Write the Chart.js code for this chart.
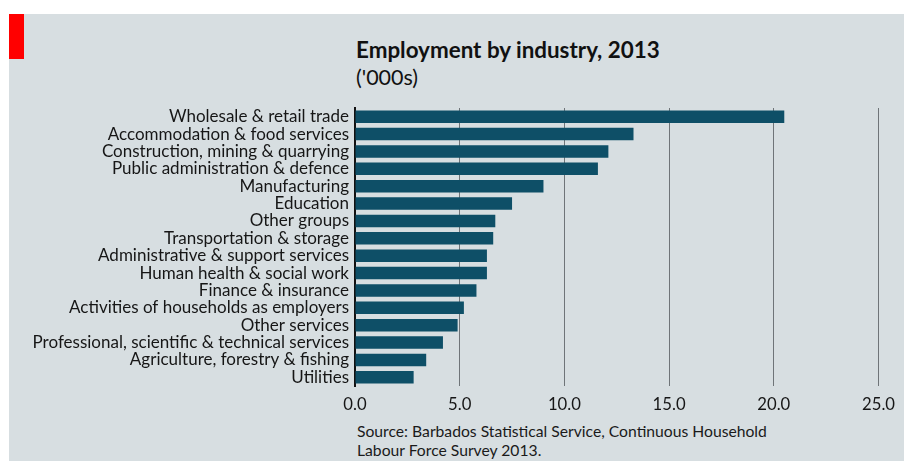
<!DOCTYPE html>
<html>
<head>
<meta charset="utf-8">
<script src="https://cdn.jsdelivr.net/npm/chart.js@4"></script>
<style>
    html, body {
        margin: 0;
        padding: 0;
        width: 904px;
        height: 461px;
        background: #ffffff;
        overflow: hidden;
        font-family: Lato, sans-serif;
    }
    #panel {
        position: absolute;
        left: 9px;
        top: 14px;
        width: 895px;
        height: 447px;
        background: #d7dee1;
    }
    #red-tag {
        position: absolute;
        left: 9px;
        top: 14px;
        width: 15px;
        height: 45px;
        background: #ff0000;
    }
    #chart-title {
        position: absolute;
        left: 356px;
        top: 36px;
        font-size: 22.4px;
        font-weight: bold;
        color: #111111;
        white-space: nowrap;
    }
    #chart-subtitle {
        position: absolute;
        left: 356px;
        top: 64px;
        font-size: 21.5px;
        color: #111111;
        white-space: nowrap;
    }
    #chart-source {
        position: absolute;
        left: 357px;
        top: 422px;
        font-size: 15.7px;
        line-height: 18.5px;
        color: #1a1a1a;
        white-space: nowrap;
    }
    #chart-wrap {
        position: absolute;
        left: 0;
        top: 0;
        width: 904px;
        height: 461px;
    }
</style>
</head>
<body>
<div id="panel"></div>
<div id="red-tag"></div>
<div id="chart-title">Employment by industry, 2013</div>
<div id="chart-subtitle">('000s)</div>
<div id="chart-source">Source: Barbados Statistical Service, Continuous Household<br>Labour Force Survey 2013.</div>
<div id="chart-wrap"><canvas id="employment-chart" width="904" height="461"></canvas></div>

<script>
// industries, largest first
const industries = [
    "Wholesale & retail trade",
    "Accommodation & food services",
    "Construction, mining & quarrying",
    "Public administration & defence",
    "Manufacturing",
    "Education",
    "Other groups",
    "Transportation & storage",
    "Administrative & support services",
    "Human health & social work",
    "Finance & insurance",
    "Activities of households as employers",
    "Other services",
    "Professional, scientific & technical services",
    "Agriculture, forestry & fishing",
    "Utilities"
];

// thousands employed
const employed = [20.5, 13.3, 12.1, 11.6, 9.0, 7.5, 6.7, 6.6, 6.3, 6.3, 5.8, 5.2, 4.9, 4.2, 3.4, 2.8];

const xTicks = [0, 5, 10, 15, 20, 25];

const BAR_COLOR = '#0e4f67';
const GRID_COLOR = '#6f7478';
const TEXT_COLOR = '#161616';

function drawEmploymentChart() {
    let canvas = document.getElementById("employment-chart");

    const config = {
        type: 'bar',
        data: {
            labels: industries,
            datasets: [
                {
                    label: "Employment",
                    data: employed,
                    backgroundColor: BAR_COLOR,
                    borderWidth: 0,
                    categoryPercentage: 1.0,
                    barPercentage: 0.72
                }
            ]
        },
        options: {
            responsive: false,
            animation: false,
            maintainAspectRatio: false,
            indexAxis: 'y',
            layout: {
                padding: { left: 0, right: 25, top: 108, bottom: 45 }
            },
            scales: {
                x: {
                    min: 0,
                    max: 25,
                    afterBuildTicks: function (scale) {
                        scale.ticks = xTicks.map(v => ({ value: v }));
                    },
                    afterFit: function (scale) {
                        scale.height = 30;
                    },
                    grid: {
                        color: GRID_COLOR,
                        lineWidth: 1,
                        drawTicks: false
                    },
                    border: { display: false },
                    ticks: {
                        padding: 9,
                        color: TEXT_COLOR,
                        font: { family: 'Lato', size: 16.7 },
                        callback: function (value) { return Number(value).toFixed(1); }
                    }
                },
                y: {
                    afterFit: function (scale) {
                        scale.width = 355;
                    },
                    grid: { display: false, drawTicks: false },
                    border: { display: true, color: '#111111', width: 2 },
                    ticks: {
                        padding: 6,
                        color: TEXT_COLOR,
                        autoSkip: false,
                        font: { family: 'Lato', size: 17 }
                    }
                }
            },
            plugins: {
                legend: { display: false },
                tooltip: { enabled: false }
            }
        }
    };

    return new Chart(canvas, config);
}

document.fonts.load('16px Lato').then(drawEmploymentChart, drawEmploymentChart);
</script>
</body>
</html>
